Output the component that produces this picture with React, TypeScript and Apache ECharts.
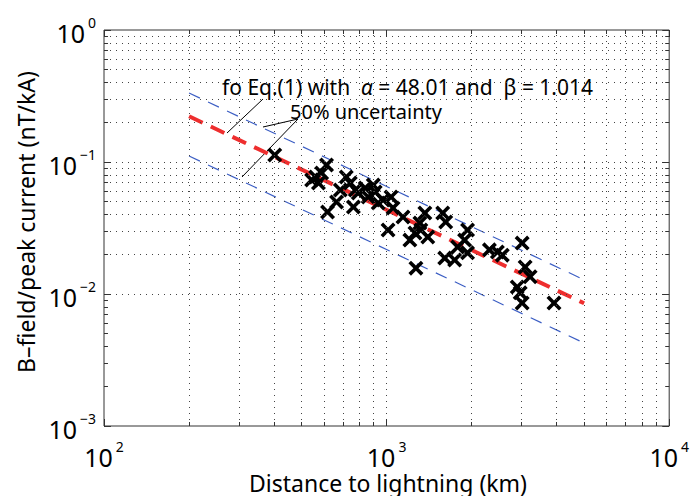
import React, { useEffect, useRef } from "react";
import * as echarts from "echarts";

// Distance to lightning (km) and B-field / peak current (nT/kA)
const distanceKm = [
  402, 543, 561, 574, 613, 589, 618, 665, 720, 744, 775, 763, 794, 840, 861, 911, 897, 934,
  1037, 1054, 1143, 1012, 1209, 1260, 1312, 1366, 1322, 1399, 1580, 1619, 1270, 1934, 1888,
  1784, 1606, 1741, 1934, 2311, 2466, 2567, 3018, 3092, 3220, 2899, 2970, 3018, 3912, 972, 686,
];
const bPerCurrent = [
  0.113, 0.0731, 0.077, 0.0693, 0.0949, 0.0825, 0.0418, 0.0498, 0.077, 0.0693, 0.0614, 0.0456,
  0.0582, 0.0635, 0.0543, 0.0593, 0.067, 0.0489, 0.0543, 0.0449, 0.0383, 0.0305, 0.0256, 0.029,
  0.0345, 0.0411, 0.0305, 0.027, 0.0411, 0.0351, 0.0157, 0.0305, 0.0256, 0.0227, 0.0187, 0.0181,
  0.0205, 0.0216, 0.0208, 0.0197, 0.0243, 0.016, 0.0135, 0.0113, 0.0102, 0.00855, 0.00855,
  0.0515, 0.0614,
];

// Fit line (Eq.(1), alpha = 48.01, beta = 1.014) and 50% uncertainty band end points
const fitX = [200, 5000];
const fitY = [0.222, 0.0085];
const upperY = [0.333, 0.0128];
const lowerY = [0.111, 0.00425];

const xTicks = [100, 1000, 10000];
const yTicks = [0.001, 0.01, 0.1, 1];

const FONT = "'Noto Sans', 'Open Sans', sans-serif";

const X_SYMBOL =
  "path://M0,1.7L1.7,0L5,3.3L8.3,0L10,1.7L6.7,5L10,8.3L8.3,10L5,6.7L1.7,10L0,8.3L3.3,5Z";

function decadeSubs(from: number, to: number) {
  const out: number[] = [];
  for (let d = from; d < to; d++) {
    const base = Math.pow(10, d);
    for (let k = 1; k <= 9; k++) {
      if (k === 1 && d === from) continue;
      out.push(+(base * k).toPrecision(6));
    }
  }
  return out;
}

export default function App() {
  const ref = useRef<HTMLDivElement>(null);

  useEffect(() => {
    if (!ref.current) return;
    const chart = echarts.init(ref.current, undefined, { renderer: "svg" });

    const gLeft = 104, gTop = 30, gW = 569, gH = 396;
    const xDec = gW / 2, yDec = gH / 3;
    const xGrid = decadeSubs(2, 4);
    const yGrid = decadeSubs(-3, 0);
    const xAll = [100, ...xGrid, 10000];
    const yAll = [0.001, ...yGrid, 1];

    const fx = (px: number) => Math.pow(10, px / xDec);
    const fy = (px: number) => Math.pow(10, px / yDec);

    const isMajor = (v: number) => Math.abs(Math.log10(v) - Math.round(Math.log10(v))) < 1e-6;

    const tickSegs: any[] = [];
    xAll.forEach((v) => {
      const len = isMajor(v) ? 7 : 4;
      tickSegs.push([{ coord: [v, 0.001] }, { coord: [v, 0.001 * fy(len)] }]);
      tickSegs.push([{ coord: [v, 1 / fy(len)] }, { coord: [v, 1] }]);
    });
    yAll.forEach((v) => {
      const len = isMajor(v) ? 7 : 4;
      tickSegs.push([{ coord: [100, v] }, { coord: [100 * fx(len), v] }]);
      tickSegs.push([{ coord: [10000 / fx(len), v] }, { coord: [10000, v] }]);
    });

    const labelFmt = (v: number) => {
      const e = Math.round(Math.log10(v));
      return `{b|10}{s|${e < 0 ? "\u2212" + -e : e}}`;
    };
    const rich = {
      b: { fontSize: 25, fontFamily: FONT, color: "#000", verticalAlign: "bottom" },
      s: {
        fontSize: 14, fontFamily: FONT, color: "#000",
        padding: [0, 0, 16, 3], verticalAlign: "bottom",
      },
    };

    chart.setOption({
      animation: false,
      backgroundColor: "#fff",
      grid: {
        left: gLeft, top: gTop, width: gW, height: gH,
        show: true, borderColor: "#333", borderWidth: 1, backgroundColor: "transparent",
      },
      xAxis: {
        type: "log", logBase: 10, min: 100, max: 10000,
        axisLine: { show: false },
        axisTick: { show: false },
        splitLine: { show: false },
        axisLabel: { formatter: labelFmt, rich, margin: 13, customValues: xTicks },
      },
      yAxis: {
        type: "log", logBase: 10, min: 0.001, max: 1,
        axisLine: { show: false },
        axisTick: { show: false },
        splitLine: { show: false },
        axisLabel: { formatter: labelFmt, rich, margin: 8, customValues: yTicks },
      },
      graphic: [
        {
          type: "text", x: 26, y: 222, rotation: Math.PI / 2,
          style: {
            text: "B\u2013field/peak current (nT/kA)", fontSize: 23, fontFamily: FONT,
            fill: "#000", align: "center", verticalAlign: "middle",
          },
        },
        {
          type: "text", x: 388, y: 483,
          style: {
            text: "Distance to lightning (km)", fontSize: 23, fontFamily: FONT,
            fill: "#000", align: "center", verticalAlign: "middle", lineHeight: 24,
          },
        },
        {
          type: "text", x: 222, y: 87,
          style: {
            text: "fo Eq.(1) with  {i|\u03b1} = 48.01 and  \u03b2 = 1.014",
            fontSize: 21, fontFamily: FONT, fill: "#000", verticalAlign: "middle",
            lineHeight: 22,
            rich: { i: { fontStyle: "italic", fontSize: 21, fontFamily: FONT, lineHeight: 22 } },
          },
        },
        {
          type: "text", x: 290, y: 111,
          style: {
            text: "50% uncertainty", fontSize: 20, fontFamily: FONT, fill: "#000",
            verticalAlign: "middle", lineHeight: 21,
          },
        },
        { type: "line", shape: { x1: 263, y1: 99, x2: 227, y2: 133 }, style: { stroke: "#000", lineWidth: 1 } },
        { type: "line", shape: { x1: 298, y1: 119, x2: 263, y2: 127 }, style: { stroke: "#000", lineWidth: 1 } },
        { type: "line", shape: { x1: 298, y1: 119, x2: 242, y2: 177 }, style: { stroke: "#000", lineWidth: 1 } },
      ],
      series: [
        {
          type: "line", data: [], silent: true,
          markLine: {
            silent: true, symbol: ["none", "none"], label: { show: false },
            lineStyle: { color: "#444", width: 1, type: [1, 5] },
            data: [
              ...xGrid.map((v) => ({ xAxis: v })),
              ...yGrid.map((v) => ({ yAxis: v })),
            ],
          },
        },
        {
          type: "line", data: [], silent: true,
          markLine: {
            silent: true, symbol: ["none", "none"], label: { show: false },
            lineStyle: { color: "#333", width: 1, type: "solid" },
            data: tickSegs,
          },
        },
        {
          type: "line", data: fitX.map((x, i) => [x, upperY[i]]), showSymbol: false,
          lineStyle: { color: "#3d5fc4", width: 1.2, type: [12, 9] },
        },
        {
          type: "line", data: fitX.map((x, i) => [x, lowerY[i]]), showSymbol: false,
          lineStyle: { color: "#3d5fc4", width: 1.2, type: [12, 9] },
        },
        {
          type: "line", data: fitX.map((x, i) => [x, fitY[i]]), showSymbol: false,
          lineStyle: { color: "#ee2e2e", width: 4, type: [15, 9] }, z: 3,
        },
        {
          type: "scatter", data: distanceKm.map((x, i) => [x, bPerCurrent[i]]),
          symbol: X_SYMBOL, symbolSize: 15,
          itemStyle: { color: "#000", opacity: 1 }, z: 4,
        },
      ],
    });

    return () => chart.dispose();
  }, []);

  return (
    <div
      ref={ref}
      style={{ position: "fixed", left: 0, top: 0, width: 692, height: 496, background: "#fff" }}
    />
  );
}
